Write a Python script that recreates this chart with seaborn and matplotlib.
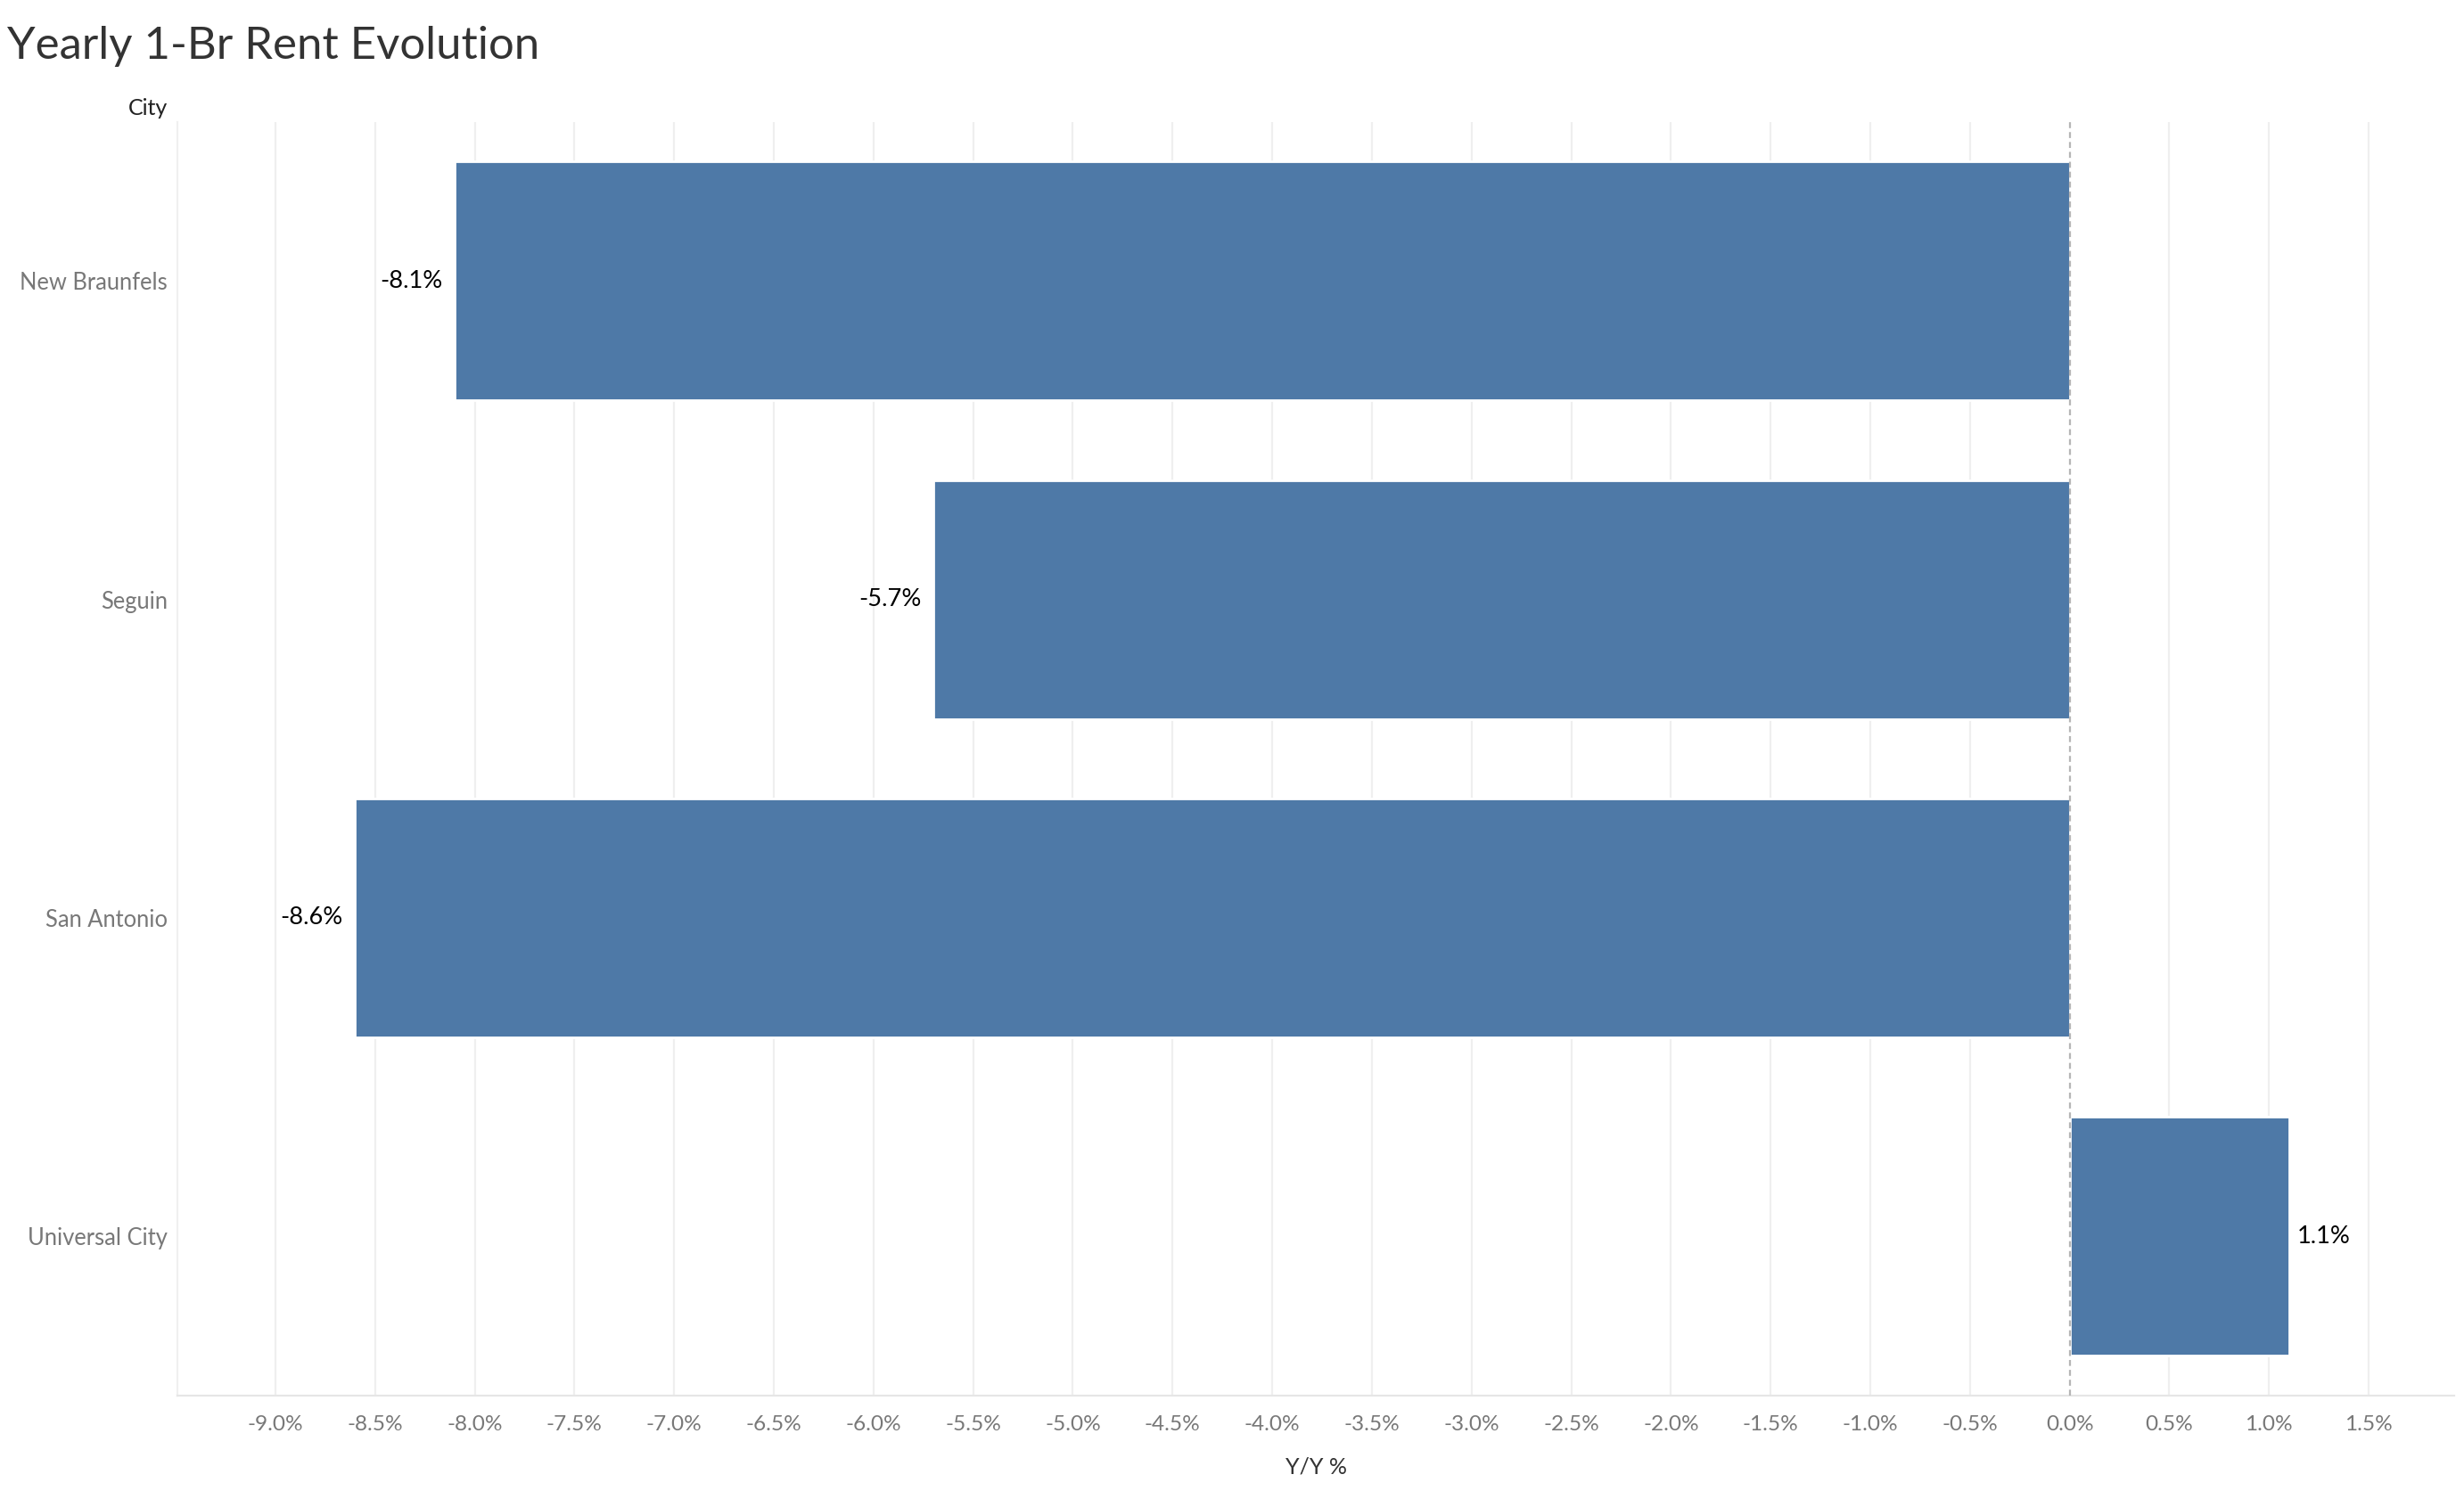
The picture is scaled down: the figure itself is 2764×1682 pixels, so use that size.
import matplotlib
matplotlib.use("Agg")
import matplotlib.pyplot as plt
import seaborn as sns
import numpy as np
import pandas as pd

cities = ["New Braunfels", "Seguin", "San Antonio", "Universal City"]
yoy_pct = [-8.1, -5.7, -8.6, 1.1]
x_ticks = [round(-9.0 + 0.5 * i, 1) for i in range(22)]
x_tick_labels = [f"{t:.1f}%" for t in x_ticks]

sns.set_theme(style="white")
plt.rcParams['font.family'] = ['Lato', 'DejaVu Sans']

df = pd.DataFrame({"City": cities, "YoY": yoy_pct})

fig = plt.figure(figsize=(13.82, 8.41), dpi=200)
ax = fig.add_axes([0.0721, 0.069, 0.924, 0.8498])

sns.barplot(data=df, x="YoY", y="City", orient="h", color="#4e79a7",
            saturation=1, width=0.75, ax=ax, order=cities)

ax.set_xlim(-9.49, 1.93)
ax.set_ylim(3.5, -0.5)
ax.set_xticks(x_ticks)
ax.set_xticklabels(x_tick_labels, fontsize=8.8, color="#787878")
ax.tick_params(axis="x", length=4, width=0.8, color="#ececec", pad=4)
ax.tick_params(axis="y", length=0, pad=4, labelsize=9.2, labelcolor="#787878")

for t in x_ticks:
    if t == 0:
        continue
    ax.axvline(t, color="#efefef", lw=0.8, zorder=0)
ax.axvline(0, color="#b5b5b5", lw=0.8, ls=(0, (3, 2)), zorder=3)

for s in ["top", "right"]:
    ax.spines[s].set_visible(False)
ax.spines["left"].set_color("#f0f0f0")
ax.spines["left"].set_linewidth(0.8)
ax.spines["bottom"].set_color("#e6e6e6")
ax.spines["bottom"].set_linewidth(0.8)

for i, v in enumerate(yoy_pct):
    if v < 0:
        ax.text(v - 0.06, i, f"{v:.1f}%", ha="right", va="center", fontsize=9.8, color="#000000")
    else:
        ax.text(v + 0.04, i, f"{v:.1f}%", ha="left", va="center", fontsize=9.8, color="#000000")

ax.set_xlabel("Y/Y %", fontsize=9.0, color="#333333", labelpad=9)
ax.set_ylabel("")

fig.text(0.0682, 0.928, "City", ha="right", va="center", fontsize=9.0, color="#222222")
fig.text(0.003, 0.969, "Yearly 1-Br Rent Evolution", ha="left", va="center",
         fontsize=18.3, color="#333333")

fig.savefig("out.png", dpi=200)
